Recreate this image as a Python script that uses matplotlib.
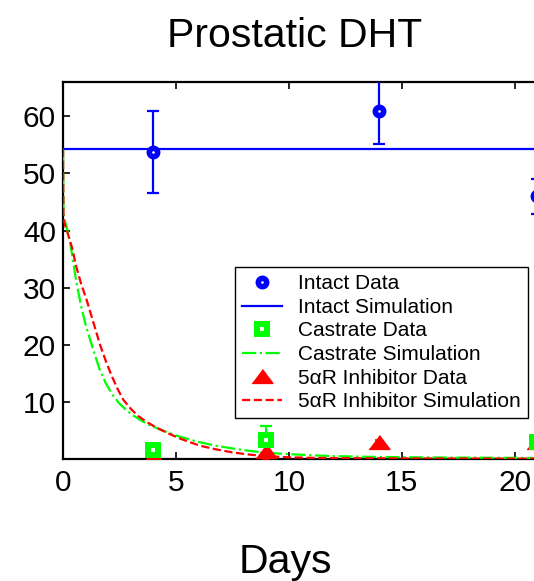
import numpy as np
import matplotlib
matplotlib.use('Agg')
import matplotlib.pyplot as plt

plt.rcParams['font.family'] = ['Liberation Sans', 'DejaVu Sans']

# data
intact_days = [4, 14, 21]
intact_dht = [53.8, 61.0, 46.0]
intact_err = [7.2, 5.9, 3.1]

intact_sim_days = [0, 22]
intact_sim = [54.3, 54.3]

castrate_days = [4, 9, 21]
castrate_dht = [1.6, 3.4, 3.0]
castrate_err = [0.8, 2.4, 1.0]

inhib_days = [4, 9, 14, 21]
inhib_dht = [0.5, 1.4, 3.0, 3.0]
inhib_err = [2.3, 1.5, 0.3, 0.5]

castrate_sim_days = [0, 0.02, 0.1, 0.2, 0.3, 0.45, 0.6, 0.8, 1.0, 1.27, 1.6, 1.9, 2.2, 2.5,
                     2.8, 3.1, 3.5, 3.9, 4.4, 5.0, 5.6, 6.2, 6.8, 7.5, 8.3, 9, 10, 11, 12,
                     14, 17, 20, 22]
castrate_sim = [54.3, 43, 41.5, 40, 38.3, 34.5, 30.8, 26.8, 23.5, 20, 15.9, 13.2, 11.2, 9.7,
                8.56, 7.64, 6.64, 5.82, 5.0, 4.12, 3.4, 2.8, 2.3, 1.85, 1.4, 1.1, 0.85, 0.65, 0.5,
                0.35, 0.25, 0.2, 0.15]

inhib_sim_days = [0, 0.02, 0.1, 0.2, 0.4, 0.6, 0.8, 1.05, 1.3, 1.64, 1.9, 2.15, 2.4, 2.68, 3.0,
                  3.3, 3.7, 4.09, 4.6, 5.1, 5.57, 6.09, 6.76, 7.5, 8.3, 9, 10, 11, 12, 15, 22]
inhib_sim = [54.3, 42, 40.8, 39.6, 37, 33.5, 30.7, 27.8, 24.5, 20, 17.1, 14.6, 12.4, 10.3, 8.8,
             7.6, 6.5, 5.6, 4.6, 3.7, 3.0, 2.3, 1.7, 1.15, 0.75, 0.5, 0.3, 0.2, 0.15, 0.1, 0.05]

W, H = 534, 581
fig = plt.figure(figsize=(W / 100, H / 100), dpi=100)
ax = fig.add_axes([63 / W, 122 / H, 497 / W, 377 / H])

blue = '#0000ff'
green = '#00ff00'
red = '#ff0000'

tri = [(-1.5, -1), (1.5, -1), (0, 1)]

# error bars first, markers on top
ax.errorbar(intact_days, intact_dht, yerr=intact_err, fmt='none', ecolor=blue,
            elinewidth=1.6, capsize=4, capthick=1.6, zorder=5)
ax.errorbar(inhib_days, inhib_dht, yerr=inhib_err, fmt='none', ecolor=red,
            elinewidth=1.2, capsize=3, capthick=1.2, zorder=5)
ax.errorbar(castrate_days, castrate_dht, yerr=castrate_err, fmt='none', ecolor=green,
            elinewidth=1.6, capsize=4, capthick=1.6, zorder=5)

h1, = ax.plot(intact_days, intact_dht, 'o', ms=6, mfc='white', mec=blue, mew=4,
              label='Intact Data', zorder=6)
h2, = ax.plot(intact_sim_days, intact_sim, '-', color=blue, lw=1.6,
              label='Intact Simulation', zorder=3)
h5, = ax.plot(inhib_days, inhib_dht, ls='none', marker=tri, color=red, ms=15,
              label='5αR Inhibitor Data', zorder=6)
h3, = ax.plot(castrate_days, castrate_dht, 's', ms=6.5, mfc='white', mec=green, mew=4.3,
              label='Castrate Data', zorder=7)
h4, = ax.plot(castrate_sim_days, castrate_sim, '-.', color=green, lw=1.6,
              label='Castrate Simulation', zorder=4)
h6, = ax.plot(inhib_sim_days, inhib_sim, '--', color=red, lw=1.6,
              label='5αR Inhibitor Simulation', zorder=4)

ax.set_xlim(0, 22)
ax.set_ylim(0, 66)
ax.set_xticks([0, 5, 10, 15, 20])
ax.set_yticks([10, 20, 30, 40, 50, 60])
ax.tick_params(direction='in', length=5, width=1.2, labelsize=21.5, top=True, right=True)
ax.tick_params(axis='x', pad=7)
ax.tick_params(axis='y', pad=5)
for s in ax.spines.values():
    s.set_linewidth(1.6)

leg = ax.legend(handles=[h1, h2, h3, h4, h5, h6],
                loc='upper left', bbox_to_anchor=(235 / W, 1 - 267 / H),
                bbox_transform=fig.transFigure, fontsize=15, frameon=True,
                fancybox=False, edgecolor='black', framealpha=1,
                labelspacing=0.22, handlelength=1.9, handletextpad=0.75,
                borderpad=0.35, borderaxespad=0, numpoints=1)
leg.get_frame().set_linewidth(1.0)
leg.set_zorder(10)

fig.text(295 / W, 1 - 47 / H, 'Prostatic DHT', ha='center', va='baseline', fontsize=29.5)
fig.text(285.5 / W, 8 / H, 'Days', ha='center', va='baseline', fontsize=29.5)

fig.savefig('out.png', dpi=100)
